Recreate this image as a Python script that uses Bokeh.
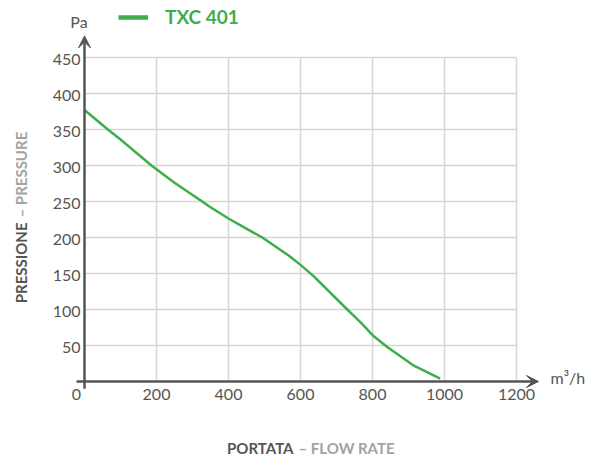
import math
from bokeh.plotting import figure
from bokeh.models import (Range1d, Label, Arrow, VeeHead, Legend, LegendItem)
from bokeh.embed import file_html
from bokeh.resources import INLINE

# ---- data ----
flow_rate = [0, 65, 100, 186, 250, 327, 350, 401, 447, 494, 567, 600, 637, 730, 767, 801, 841, 915, 988]
pressure = [377, 350, 336, 300, 276, 250, 242, 226, 213, 200, 175, 162, 146, 100, 82, 64, 48, 22, 4]
series_name = "TXC 401"
x_ticks = [200, 400, 600, 800, 1000, 1200]
y_ticks = [50, 100, 150, 200, 250, 300, 350, 400, 450]
x_unit = "m³/h"
y_unit = "Pa"
x_title = ("PORTATA", "– FLOW RATE")
y_title = ("PRESSIONE", "– PRESSURE")

GREEN = "#3dae49"
DARK = "#555555"
LIGHT = "#a3a3a3"
GRID = "#d6d6d6"
FONT = "Lato"

W, H = 589, 459
# plot area: x 0..1200 -> px 84..516 ; y 0..450 -> px 381..57
X0PX, XSC = 84.0, 0.36
Y0PX, YSC = 381.0, 0.72
p = figure(width=W, height=H, output_backend="svg", toolbar_location=None,
           x_range=Range1d(-X0PX / XSC, (W - X0PX) / XSC),
           y_range=Range1d(-(H - Y0PX) / YSC, Y0PX / YSC),
           min_border=0)
p.axis.visible = False
p.grid.visible = False
p.outline_line_color = None
p.background_fill_color = "white"
p.border_fill_color = "white"

x_max = x_ticks[-1]
y_max = y_ticks[-1]
# grid
p.segment(x0=x_ticks, y0=[0] * len(x_ticks), x1=x_ticks, y1=[y_max] * len(x_ticks),
          line_color=GRID, line_width=1.5)
p.segment(x0=[0] * len(y_ticks), y0=y_ticks, x1=[x_max] * len(y_ticks), y1=y_ticks,
          line_color=GRID, line_width=1.5)

r = p.line(flow_rate, pressure, line_color=GREEN, line_width=2.5, line_join="round")

# axes with arrows
p.add_layout(Arrow(x_start=0, y_start=-10, x_end=0, y_end=480, line_color=DARK, line_width=2.5,
                   end=VeeHead(size=12, fill_color=DARK, line_color=DARK)))
p.add_layout(Arrow(x_start=-22, y_start=0, x_end=1261, y_end=0, line_color=DARK, line_width=2.5,
                   end=VeeHead(size=12, fill_color=DARK, line_color=DARK)))

# legend (thicker sample line; renderer holds no visible points)
leg_r = p.line(x=[float("nan")], y=[float("nan")], line_color=GREEN, line_width=4.5)
legend = Legend(items=[LegendItem(label=series_name, renderers=[leg_r])],
                location=(118, 431), glyph_width=30, glyph_height=20, label_standoff=17,
                padding=0, margin=0, border_line_color=None, background_fill_alpha=0,
                label_text_font=FONT, label_text_font_style="bold", label_text_font_size="19px",
                label_text_color=GREEN, label_height=20)
p.add_layout(legend, "center")

def lab(text, x, y, color=DARK, size="16px", style="normal", align="center", baseline="middle",
        angle=0, x_units="screen", y_units="screen", y_offset=0):
    p.add_layout(Label(x=x, y=y, x_units=x_units, y_units=y_units, text=text, y_offset=y_offset,
                       text_font=FONT, text_font_size=size, text_font_style=style,
                       text_color=color, text_align=align, text_baseline=baseline, angle=angle))

for t in x_ticks:
    lab(str(t), t, H - 388, baseline="top", x_units="data")
for t in y_ticks:
    lab(str(t), 80, t, align="right", y_units="data", y_offset=-2)

lab(y_unit, 78.5, H - 21)
lab(x_unit, 550, H - 377, align="left")
lab("0", 76, H - 388, baseline="top")
lab(x_title[0], 293, H - 447, color=DARK, size="15px", style="bold", align="right")
lab(x_title[1], 298, H - 447, color=LIGHT, size="15px", style="bold", align="left")
lab(y_title[0], 20, H - 222, color=DARK, size="15px", style="bold", align="right", angle=math.pi / 2)
lab(y_title[1], 20, H - 217, color=LIGHT, size="15px", style="bold", align="left", angle=math.pi / 2)

open("out.html", "w").write(file_html(p, INLINE))
